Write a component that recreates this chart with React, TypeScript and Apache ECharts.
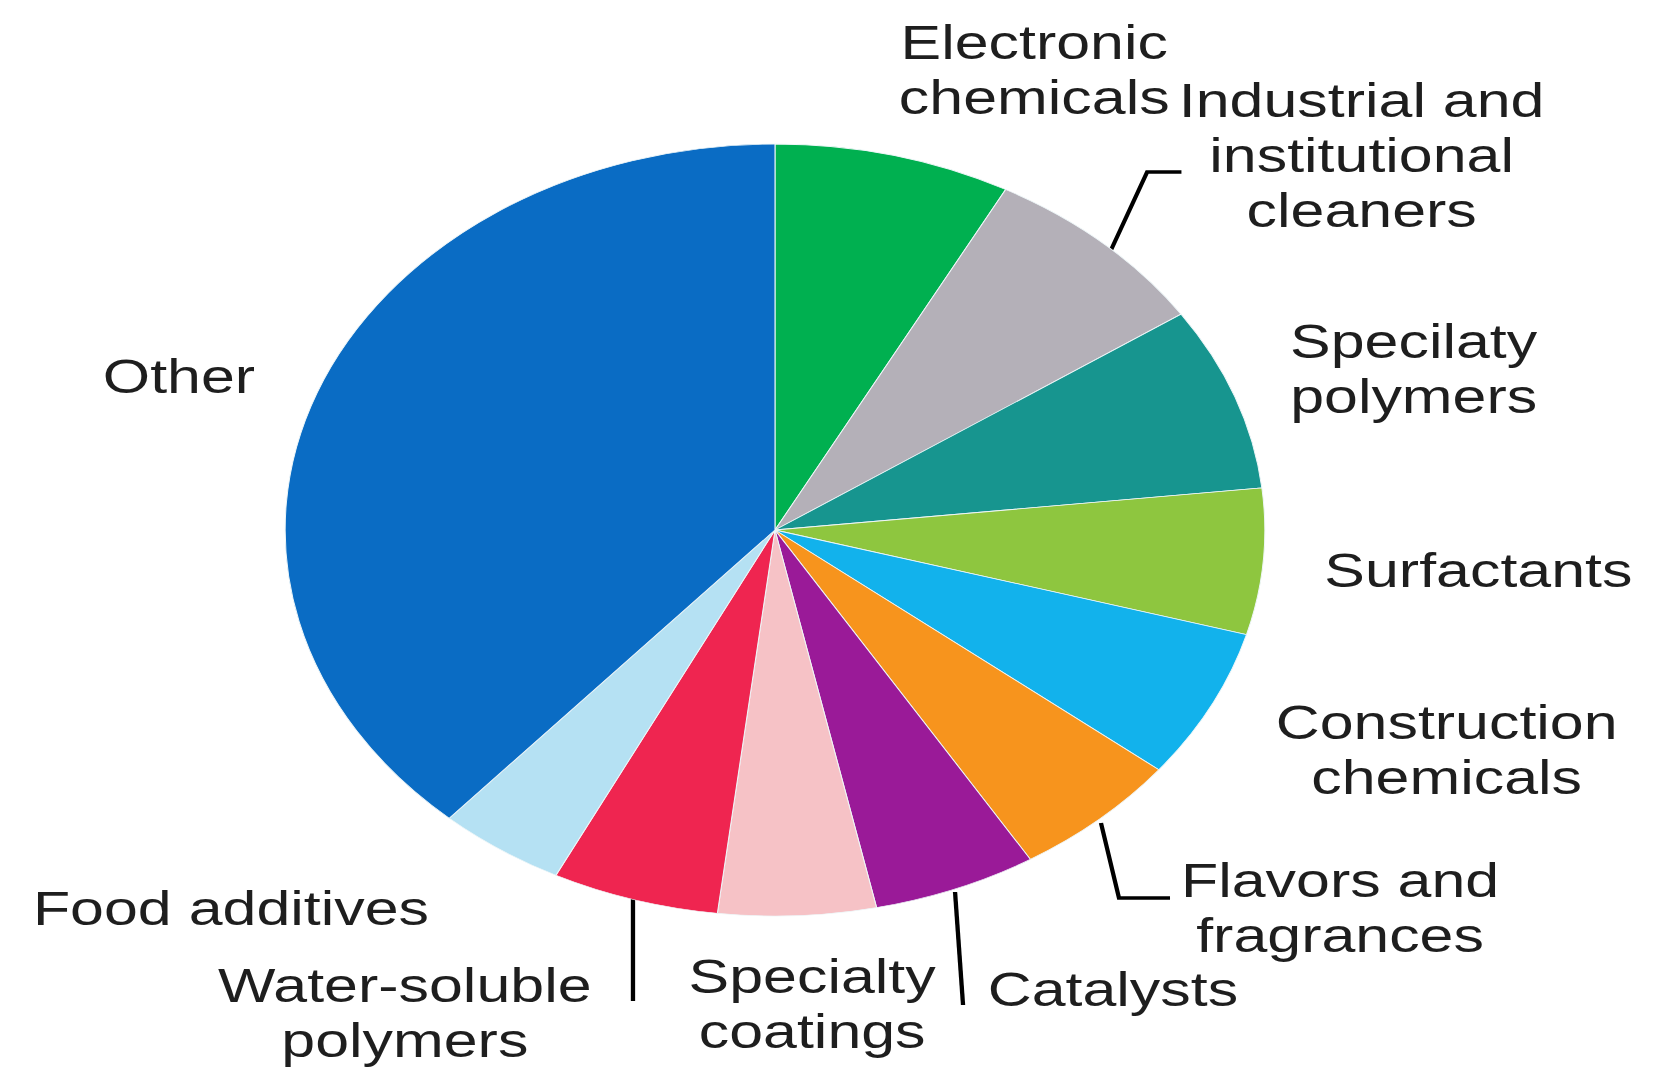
import React, { useEffect, useRef } from "react";
import * as echarts from "echarts";

// Data (shares, %), clockwise from 12 o'clock
const categories = [
  "Electronic chemicals",
  "Industrial and institutional cleaners",
  "Specilaty polymers",
  "Surfactants",
  "Construction chemicals",
  "Flavors and fragrances",
  "Catalysts",
  "Specialty coatings",
  "Water-soluble polymers",
  "Food additives",
  "Other",
];
const shares = [7.8, 7.75, 7.7, 6.1, 6.3, 5.6, 5.4, 5.2, 5.5, 4.2, 38.4];
const labelTexts = [
  "Electronic\nchemicals",
  "Industrial and\ninstitutional\ncleaners",
  "Specilaty\npolymers",
  "Surfactants",
  "Construction\nchemicals",
  "Flavors and\nfragrances",
  "Catalysts",
  "Specialty\ncoatings",
  "Water-soluble\npolymers",
  "Food additives",
  "Other",
];
const colors = [
  "#00b050",
  "#b4b0b8",
  "#17958f",
  "#8ec63f",
  "#12b2ec",
  "#f7941d",
  "#9a1a98",
  "#f6c2c6",
  "#ef2550",
  "#b5e1f3",
  "#0a6cc4",
];

// Layout (chart coordinates before horizontal stretch)
const STRETCH = 1.269;
const BOX_W = 1304;
const BOX_H = 1071;
const labelPos: [number, number][] = [
  [815, 70],
  [1073, 155],
  [1114, 369],
  [1165, 570],
  [1140, 750],
  [1056, 908],
  [877, 989],
  [640, 1004],
  [319, 1013],
  [182, 908],
  [141, 376],
];
const leaderLines: Record<number, number[][]> = {
  1: [
    [875.5, 250],
    [904, 172],
    [931, 172],
  ],
  5: [
    [867.6, 823],
    [881.8, 898],
    [922, 898],
  ],
  6: [
    [752.6, 892],
    [758.9, 1005],
  ],
  8: [
    [498.8, 895],
    [498.8, 1001],
  ],
};

export default function App() {
  const ref = useRef<HTMLDivElement>(null);
  useEffect(() => {
    if (!ref.current) return;
    const chart = echarts.init(ref.current, undefined, { renderer: "svg" });
    const data = categories.map((name, i) => ({
      name,
      value: shares[i],
      itemStyle: { color: colors[i] },
      label: { formatter: labelTexts[i] },
      labelLine: {
        show: !!leaderLines[i],
        lineStyle: { color: "#000000", width: 3.4 },
      },
    }));
    chart.setOption({
      animation: false,
      backgroundColor: "#ffffff",
      series: [
        {
          type: "pie",
          center: [610.7, 530],
          radius: 386,
          startAngle: 90,
          clockwise: true,
          avoidLabelOverlap: false,
          data,
          itemStyle: { borderColor: "#eef6f8", borderWidth: 0.8 },
          label: {
            show: true,
            position: "outside",
            fontFamily: "Liberation Sans, Arial, sans-serif",
            fontSize: 48,
            lineHeight: 55,
            color: "#1e1e1e",
            align: "center",
          },
          labelLine: {
            show: true,
            lineStyle: { color: "#000000", width: 3.4 },
          },
          labelLayout: (params: any) => {
            const i = params.dataIndex;
            const p = labelPos[i];
            const out: any = {
              x: p[0],
              y: p[1],
              align: "center",
              verticalAlign: "middle",
            };
            if (leaderLines[i]) out.labelLinePoints = leaderLines[i];
            return out;
          },
          emphasis: { disabled: true },
        },
      ],
    });
    return () => chart.dispose();
  }, []);
  return (
    <div
      ref={ref}
      style={{
        position: "fixed",
        left: 0,
        top: 0,
        width: BOX_W + "px",
        height: BOX_H + "px",
        transform: `scaleX(${STRETCH})`,
        transformOrigin: "0 0",
        background: "#ffffff",
      }}
    />
  );
}
